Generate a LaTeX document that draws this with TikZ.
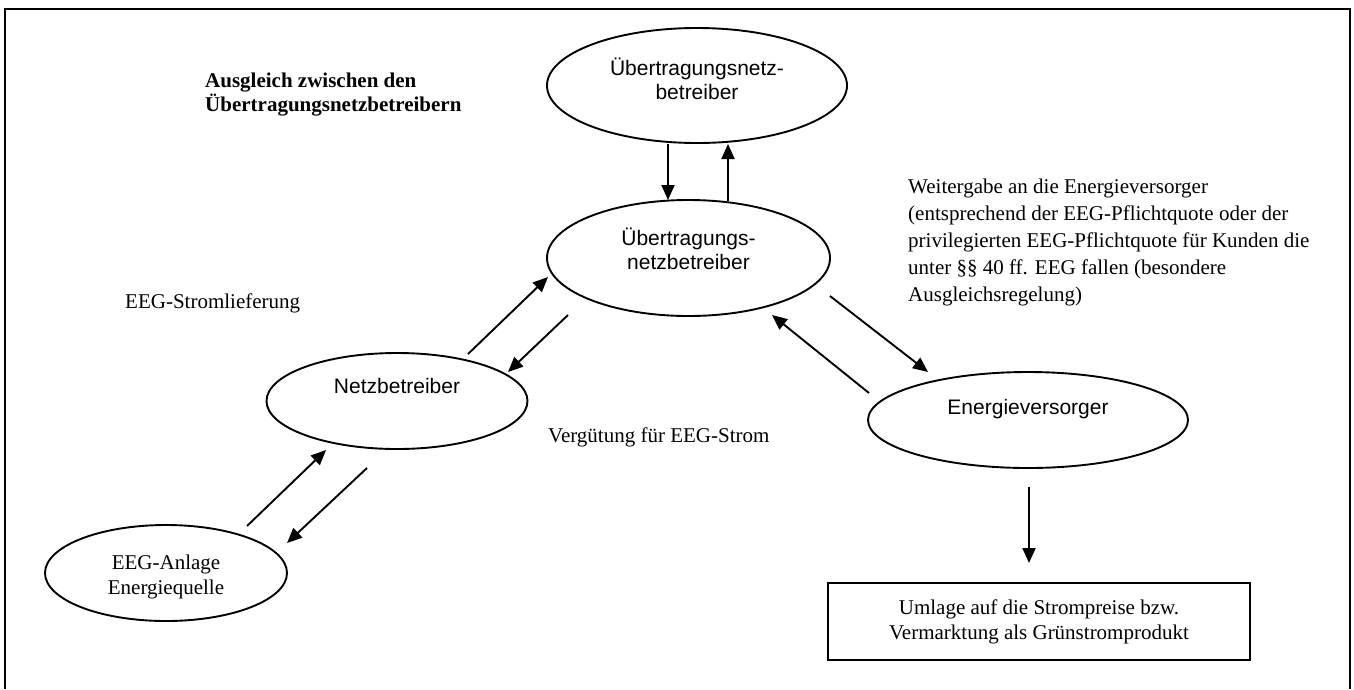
\documentclass[tikz,border=0pt]{standalone}
\usepackage{fontspec}
\setmainfont{Liberation Serif}
\newfontfamily\arialf{Liberation Sans}
\usetikzlibrary{arrows.meta,shapes.geometric}
\begin{document}
\begin{tikzpicture}[x=1pt,y=-1pt,
  ell/.style={draw,line width=1.9pt,ellipse,inner sep=0pt},
  sanslab/.style={font=\arialf\fontsize{21}{24}\selectfont,align=center,anchor=base,inner sep=0pt},
  serlabc/.style={font=\fontsize{21}{25}\selectfont,align=center,anchor=base,inner sep=0pt},
  serlab/.style={font=\fontsize{21}{27}\selectfont,align=left,anchor=base west,inner sep=0pt},
  boldlab/.style={font=\bfseries\fontsize{21}{24}\selectfont,align=left,anchor=base west,inner sep=0pt},
  arr/.style={line width=1.9pt,-{Triangle[length=15pt,width=13pt]}},
  frame/.style={line width=1.2pt}]
\useasboundingbox (0,0) rectangle (1354,689);
\draw[frame] (5,689) -- (5,9) -- (1350,9) -- (1350,689);

% ellipses
\node[ell,minimum width=300pt,minimum height=115pt] (ueb1) at (697,85.5) {};
\node[ell,minimum width=283pt,minimum height=116pt] (ueb2) at (688.5,258) {};
\node[ell,minimum width=261pt,minimum height=96pt] (netz) at (397,401) {};
\node[ell,minimum width=242pt,minimum height=96pt] (eeg) at (166,573) {};
\node[ell,minimum width=320pt,minimum height=96pt] (ev) at (1028,420) {};
\node[draw,line width=1.9pt,minimum width=422pt,minimum height=77pt,inner sep=0pt] (box) at (1039,621.5) {};

% ellipse labels (anchor = baseline of the last line)
\node[sanslab] (ueb1t) at (697,99) {Übertragungsnetz-\\betreiber};
\node[sanslab] (ueb2t) at (688.5,269) {Übertragungs-\\netzbetreiber};
\node[sanslab] (netzt) at (397,393) {Netzbetreiber};
\node[sanslab] (evt) at (1028,414) {Energieversorger};
\node[serlabc] (eegt) at (166,594) {EEG-Anlage\\Energiequelle};
\node[serlabc] (boxt) at (1039,639) {Umlage auf die Strompreise bzw.\\Vermarktung als Grünstromprodukt};

% free texts
\node[boldlab] (ausgl) at (205,111) {Ausgleich zwischen den\\Übertragungsnetzbetreibern};
\node[serlab] (strom) at (125,308) {EEG-Stromlieferung};
\node[serlab] (verg) at (548,442) {Vergütung für EEG-Strom};
\node[serlab] (weiter) at (908,301) {Weitergabe an die Energieversorger\\(entsprechend der EEG-Pflichtquote oder der\\privilegierten EEG-Pflichtquote für Kunden die\\unter §§ 40 ff. EEG fallen (besondere\\Ausgleichsregelung)};

% arrow end points
\coordinate (a1s) at (668,144);  \coordinate (a1e) at (668,200);
\coordinate (a2s) at (728,201);  \coordinate (a2e) at (728,144);
\coordinate (a3s) at (468,354);  \coordinate (a3e) at (548,277);
\coordinate (a4s) at (568,315);  \coordinate (a4e) at (508,372);
\coordinate (a5s) at (247,526);  \coordinate (a5e) at (326,450);
\coordinate (a6s) at (367,468);  \coordinate (a6e) at (287,543);
\coordinate (a7s) at (830,296);  \coordinate (a7e) at (928,372);
\coordinate (a8s) at (869,393);  \coordinate (a8e) at (772,315);
\coordinate (a9s) at (1029,487); \coordinate (a9e) at (1029,563);

\draw[arr] (a1s) -- (a1e);
\draw[arr] (a2s) -- (a2e);
\draw[arr] (a3s) -- (a3e);
\draw[arr] (a4s) -- (a4e);
\draw[arr] (a5s) -- (a5e);
\draw[arr] (a6s) -- (a6e);
\draw[arr] (a7s) -- (a7e);
\draw[arr] (a8s) -- (a8e);
\draw[arr] (a9s) -- (a9e);
\end{tikzpicture}
\end{document}
